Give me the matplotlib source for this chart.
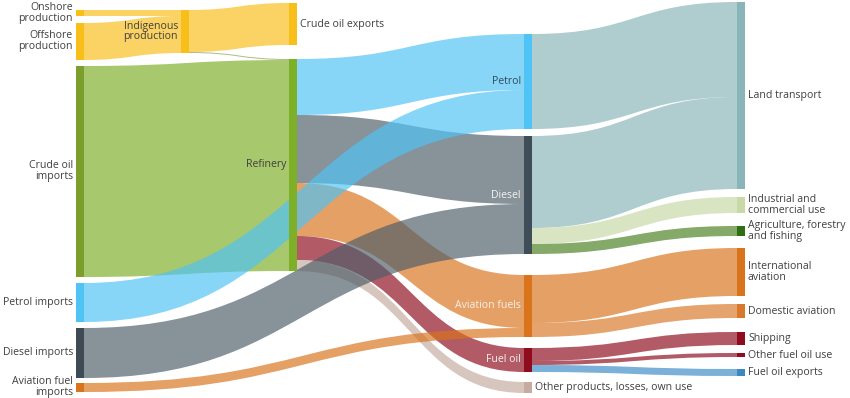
import matplotlib
matplotlib.use("Agg")
import matplotlib.pyplot as plt
from matplotlib.path import Path
from matplotlib.patches import PathPatch, Rectangle

plt.rcParams['font.family'] = ['Open Sans', 'DejaVu Sans']

# ---------------- DATA ----------------
node_names = [
    "Onshore production", "Offshore production", "Crude oil imports",
    "Petrol imports", "Diesel imports", "Aviation fuel imports",
    "Indigenous production",
    "Crude oil exports", "Refinery",
    "Petrol", "Diesel", "Aviation fuels", "Fuel oil",
    "Other products, losses, own use",
    "Land transport", "Industrial and commercial use",
    "Agriculture, forestry and fishing", "International aviation",
    "Domestic aviation", "Shipping", "Other fuel oil use", "Fuel oil exports",
]

node_labels = [
    "Onshore\nproduction", "Offshore\nproduction", "Crude oil\nimports",
    "Petrol imports", "Diesel imports", "Aviation fuel\nimports",
    "Indigenous\nproduction",
    "Crude oil exports", "Refinery",
    "Petrol", "Diesel", "Aviation fuels", "Fuel oil",
    "Other products, losses, own use",
    "Land transport", "Industrial and\ncommercial use",
    "Agriculture, forestry\nand fishing", "International\naviation",
    "Domestic aviation", "Shipping", "Other fuel oil use", "Fuel oil exports",
]

link_sources = [
    "Onshore production", "Offshore production",
    "Indigenous production", "Indigenous production",
    "Crude oil imports",
    "Refinery", "Refinery", "Refinery", "Refinery", "Refinery",
    "Petrol imports", "Diesel imports", "Aviation fuel imports",
    "Petrol", "Diesel", "Diesel", "Diesel",
    "Aviation fuels", "Aviation fuels",
    "Fuel oil", "Fuel oil", "Fuel oil",
]
link_targets = [
    "Indigenous production", "Indigenous production",
    "Crude oil exports", "Refinery",
    "Refinery",
    "Petrol", "Diesel", "Aviation fuels", "Fuel oil",
    "Other products, losses, own use",
    "Petrol", "Diesel", "Aviation fuels",
    "Land transport", "Land transport", "Industrial and commercial use",
    "Agriculture, forestry and fishing",
    "International aviation", "Domestic aviation",
    "Shipping", "Other fuel oil use", "Fuel oil exports",
]
link_values = [
    6, 37,
    42, 1,
    211,
    56, 68, 53, 24, 11,
    39, 50, 9,
    95, 92, 16, 10,
    48, 14,
    13, 4, 7,
]

# ---------------- LAYOUT / STYLE ----------------
node_column = {
    "Onshore production": 0, "Offshore production": 0, "Crude oil imports": 0,
    "Petrol imports": 0, "Diesel imports": 0, "Aviation fuel imports": 0,
    "Indigenous production": 1,
    "Crude oil exports": 2, "Refinery": 2,
    "Petrol": 3, "Diesel": 3, "Aviation fuels": 3, "Fuel oil": 3,
    "Other products, losses, own use": 3,
    "Land transport": 4, "Industrial and commercial use": 4,
    "Agriculture, forestry and fishing": 4, "International aviation": 4,
    "Domestic aviation": 4, "Shipping": 4, "Other fuel oil use": 4,
    "Fuel oil exports": 4,
}
# padding above each node (first in column = offset from top)
node_gap = {
    "Onshore production": 10, "Offshore production": 7, "Crude oil imports": 6,
    "Petrol imports": 6, "Diesel imports": 6, "Aviation fuel imports": 5,
    "Indigenous production": 10,
    "Crude oil exports": 3, "Refinery": 14,
    "Petrol": 34, "Diesel": 7, "Aviation fuels": 21, "Fuel oil": 11,
    "Other products, losses, own use": 10,
    "Land transport": 2, "Industrial and commercial use": 8,
    "Agriculture, forestry and fishing": 13, "International aviation": 12,
    "Domestic aviation": 8, "Shipping": 14, "Other fuel oil use": 8,
    "Fuel oil exports": 12,
}
column_x = [76, 181, 289, 524, 737]
node_w = 8

node_color = {
    "Onshore production": "#F8BE1A", "Offshore production": "#F8BE1A",
    "Crude oil imports": "#7B9E2C", "Petrol imports": "#4FC3F4",
    "Diesel imports": "#3E4B55", "Aviation fuel imports": "#D9731C",
    "Indigenous production": "#F8BE1A",
    "Crude oil exports": "#F8BE1A", "Refinery": "#7DAF28",
    "Petrol": "#4FC3F5", "Diesel": "#3E4D58", "Aviation fuels": "#D9731C",
    "Fuel oil": "#8E0C1E", "Other products, losses, own use": "#C5ABA0",
    "Land transport": "#8AB5B8", "Industrial and commercial use": "#C8D8A6",
    "Agriculture, forestry and fishing": "#2F6E12",
    "International aviation": "#D9731C", "Domestic aviation": "#D9782A",
    "Shipping": "#8E0C1E", "Other fuel oil use": "#8E0C1E",
    "Fuel oil exports": "#3C88C3",
}
link_color_override = {
    ("Indigenous production", "Refinery"): "#8C9A50",
    ("Fuel oil", "Fuel oil exports"): "#3C8CC8",
    ("Diesel", "Agriculture, forestry and fishing"): "#4A8020",
    ("Refinery", "Diesel"): "#4F5E69",
    ("Diesel imports", "Diesel"): "#4F5E69",
}
link_alpha = 0.68

# label placement: (side, color)
label_style = {
    "Indigenous production": ("left", "#404040"),
    "Refinery": ("left", "#404040"),
    "Crude oil exports": ("right", "#404040"),
    "Petrol": ("left", "#2F4A60"),
    "Diesel": ("left", "#F4F4F4"),
    "Aviation fuels": ("left", "#F8F0E8"),
    "Fuel oil": ("left", "#F8F0F0"),
    "Other products, losses, own use": ("right", "#404040"),
}
font_size = 7.6

# ---------------- COMPUTE ----------------
inflow = {n: 0 for n in node_names}
outflow = {n: 0 for n in node_names}
for s, t, v in zip(link_sources, link_targets, link_values):
    outflow[s] += v
    inflow[t] += v
node_value = {n: max(inflow[n], outflow[n]) for n in node_names}

node_top = {}
col_cursor = {}
for n in node_names:
    c = node_column[n]
    y = col_cursor.get(c, 0) + node_gap[n]
    node_top[n] = y
    col_cursor[c] = y + node_value[n]

W, H = 850, 398
fig = plt.figure(figsize=(W / 100, H / 100), dpi=100)
ax = fig.add_axes([0, 0, 1, 1])
ax.set_xlim(0, W)
ax.set_ylim(H, 0)
ax.axis("off")

out_off = {n: 0 for n in node_names}
in_off = {n: 0 for n in node_names}

for s, t, v in zip(link_sources, link_targets, link_values):
    x0 = column_x[node_column[s]] + node_w
    x1 = column_x[node_column[t]]
    y0a = node_top[s] + out_off[s]
    y0b = y0a + v
    y1a = node_top[t] + in_off[t]
    y1b = y1a + v
    out_off[s] += v
    in_off[t] += v
    xm = (x0 + x1) / 2
    verts = [(x0, y0a), (xm, y0a), (xm, y1a), (x1, y1a),
             (x1, y1b), (xm, y1b), (xm, y0b), (x0, y0b), (x0, y0a)]
    codes = [Path.MOVETO, Path.CURVE4, Path.CURVE4, Path.CURVE4,
             Path.LINETO, Path.CURVE4, Path.CURVE4, Path.CURVE4, Path.CLOSEPOLY]
    col = link_color_override.get((s, t), node_color[t])
    ax.add_patch(PathPatch(Path(verts, codes), facecolor=col,
                           edgecolor="none", alpha=link_alpha, zorder=1))

for n, lab in zip(node_names, node_labels):
    c = node_column[n]
    x = column_x[c]
    y = node_top[n]
    h = node_value[n]
    ax.add_patch(Rectangle((x, y), node_w, h, facecolor=node_color[n],
                           edgecolor="none", zorder=3))
    yc = y + h / 2
    if n in label_style:
        side, tc = label_style[n]
    else:
        side = "left" if c == 0 else "right"
        tc = "#404040"
    if side == "left":
        ax.text(x - 3, yc, lab, ha="right", va="center", fontsize=font_size,
                color=tc, linespacing=1.0, zorder=4)
    else:
        ax.text(x + node_w + 3, yc, lab, ha="left", va="center",
                fontsize=font_size, color=tc, linespacing=1.0, zorder=4)

fig.savefig("out.png", dpi=100)
